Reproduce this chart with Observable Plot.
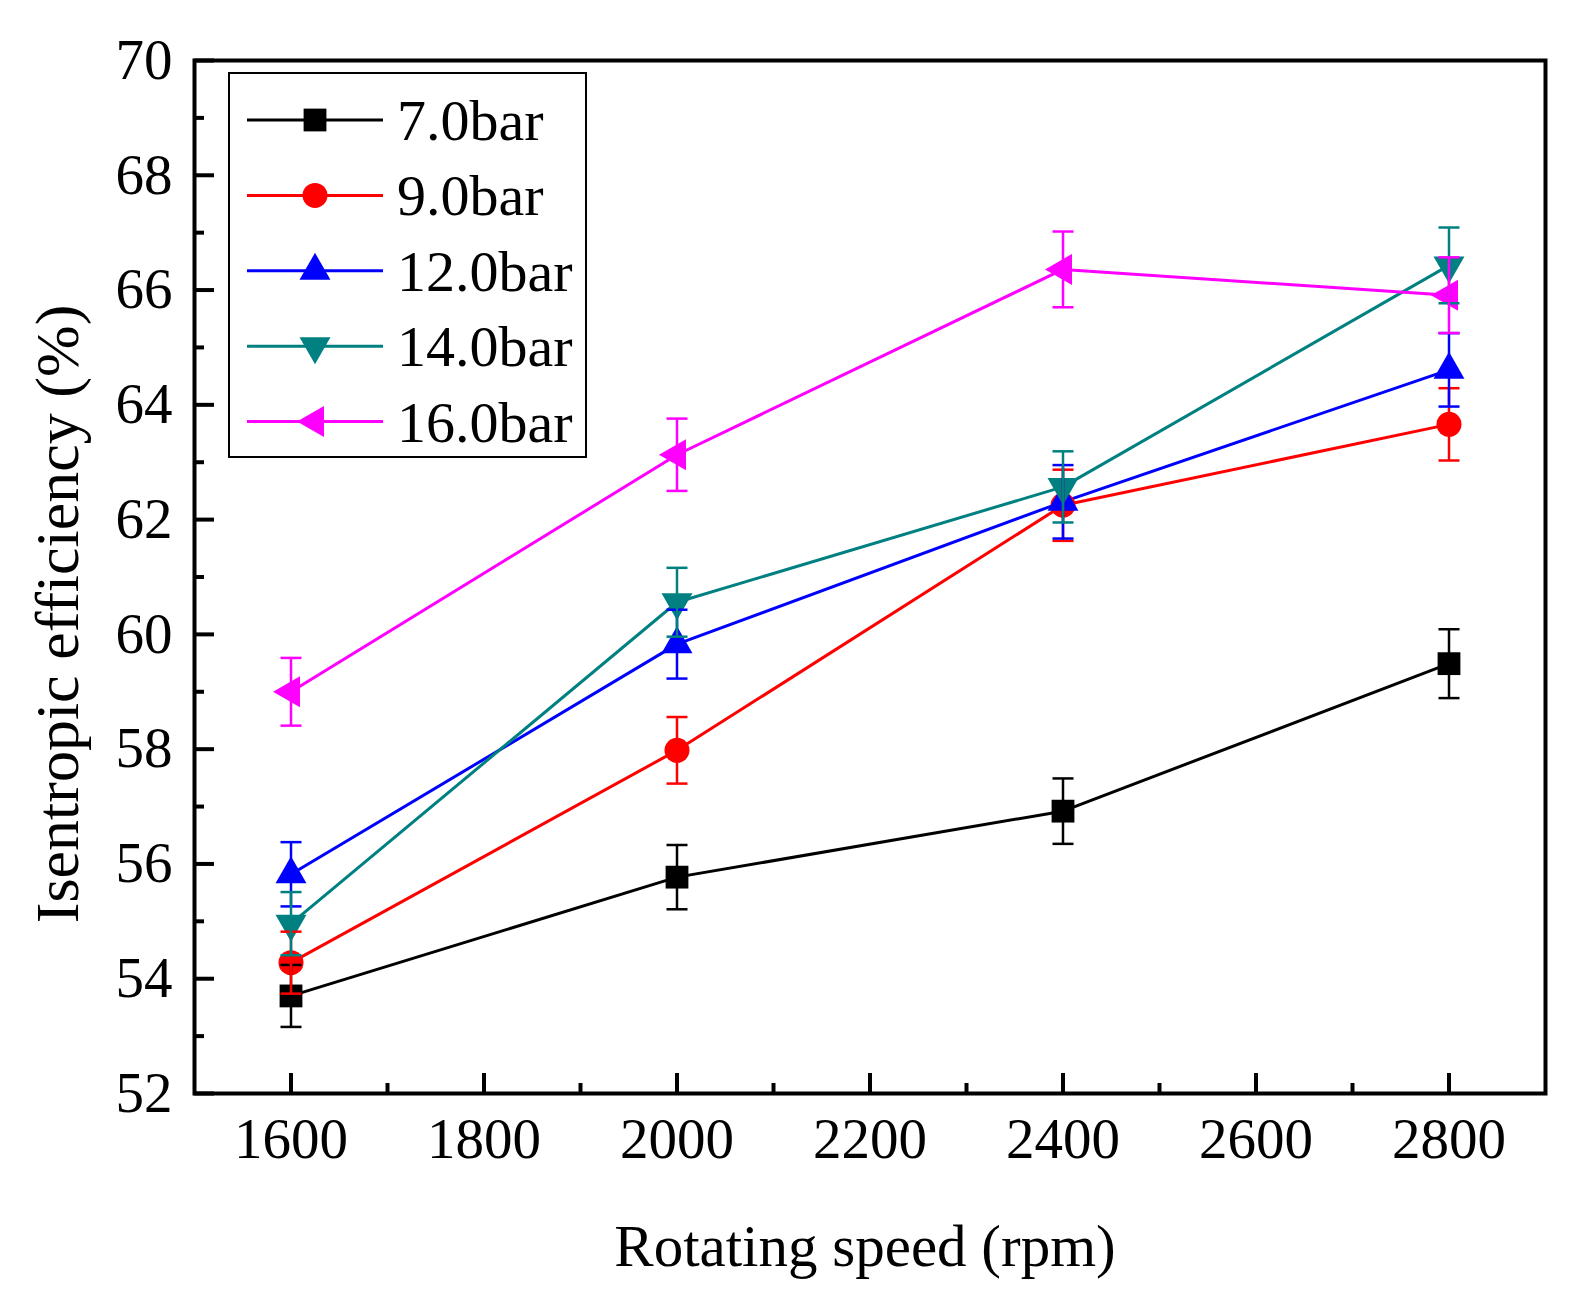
<!DOCTYPE html>
<html>
<head>
<meta charset="utf-8">
<script src="https://cdn.jsdelivr.net/npm/d3@7"></script>
<script src="https://cdn.jsdelivr.net/npm/@observablehq/plot@0.6"></script>
<style>
  body { margin: 0; background: #fff; }
  #chart svg { display: block; }
</style>
</head>
<body>
<div id="chart"></div>
<script>
// datos
const speeds = [1600, 2000, 2400, 2800]
const seriesNames = ['7.0bar', '9.0bar', '12.0bar', '14.0bar', '16.0bar']
const seriesColors = ['#000000', '#ff0000', '#0000ff', '#008080', '#ff00ff']

const eff_7 = [53.70, 55.77, 56.92, 59.49]
const eff_9 = [54.28, 57.98, 62.25, 63.66]
const eff_12 = [55.82, 59.83, 62.31, 64.61]
const eff_14 = [54.96, 60.56, 62.57, 66.43]
const eff_16 = [59.00, 63.13, 66.36, 65.91]

const err_7 = [0.54, 0.56, 0.57, 0.60]
const err_9 = [0.54, 0.58, 0.62, 0.63]
const err_12 = [0.56, 0.60, 0.64, 0.64]
const err_14 = [0.55, 0.60, 0.62, 0.66]
const err_16 = [0.59, 0.63, 0.66, 0.66]

const xMajor = [1600, 1800, 2000, 2200, 2400, 2600, 2800]
const xMinor = [1700, 1900, 2100, 2300, 2500, 2700]
const yMajor = [52, 54, 56, 58, 60, 62, 64, 66, 68, 70]
const yMinor = [53, 55, 57, 59, 61, 63, 65, 67, 69]

const effs = [eff_7, eff_9, eff_12, eff_14, eff_16]
const errs = [err_7, err_9, err_12, err_14, err_16]

/* simbolos estilo Origin */
const kOf = size => Math.sqrt(size / Math.PI)
const symSquare = {draw(c, s) { const k = kOf(s) * 0.95; c.rect(-k, -k, 2 * k, 2 * k) }}
const symCircle = {draw(c, s) { const k = kOf(s) * 1.04; c.moveTo(k, 0); c.arc(0, 0, k, 0, 2 * Math.PI) }}
const symUp = {draw(c, s) { const k = kOf(s); c.moveTo(0, -1.5 * k); c.lineTo(1.29 * k, 0.75 * k); c.lineTo(-1.29 * k, 0.75 * k); c.closePath() }}
const symDown = {draw(c, s) { const k = kOf(s); c.moveTo(0, 1.5 * k); c.lineTo(1.29 * k, -0.75 * k); c.lineTo(-1.29 * k, -0.75 * k); c.closePath() }}
const symLeft = {draw(c, s) { const k = kOf(s); c.moveTo(-1.5 * k, 0); c.lineTo(0.75 * k, -1.29 * k); c.lineTo(0.75 * k, 1.29 * k); c.closePath() }}
const symCap = {draw(c, s) { const k = kOf(s); c.moveTo(-0.875 * k, 0); c.lineTo(0.875 * k, 0) }}
const seriesSymbols = [symSquare, symCircle, symUp, symDown, symLeft]

const W = 1581, H = 1302
const mL = 194, mR = 36, mT = 60, mB = 209
const plotW = W - mL - mR, plotH = H - mT - mB
const R = 12

const series = seriesNames.map((name, i) => ({
  name,
  color: seriesColors[i],
  symbol: seriesSymbols[i],
  rows: speeds.map((sp, j) => ({speed: sp, eff: effs[i][j], err: errs[i][j]}))
}))

const lineMarks = series.map(s => Plot.line(s.rows, {x: 'speed', y: 'eff', stroke: s.color, strokeWidth: 3}))
const dotMarks = series.map(s => Plot.dot(s.rows, {x: 'speed', y: 'eff', r: R, symbol: s.symbol, fill: s.color, stroke: 'none'}))
const errMarks = series.flatMap(s => [
  Plot.ruleX(s.rows, {x: 'speed', y1: d => d.eff - d.err, y2: d => d.eff + d.err, stroke: s.color, strokeWidth: 2.5}),
  Plot.dot(s.rows, {x: 'speed', y: d => d.eff - d.err, r: R, symbol: symCap, fill: 'none', stroke: s.color, strokeWidth: 2.5}),
  Plot.dot(s.rows, {x: 'speed', y: d => d.eff + d.err, r: R, symbol: symCap, fill: 'none', stroke: s.color, strokeWidth: 2.5}),
])

const chart = Plot.plot({
  width: W, height: H,
  marginLeft: mL, marginRight: mR, marginTop: mT, marginBottom: mB,
  style: {fontFamily: '"Liberation Serif", "Times New Roman", serif', fontSize: '57px', color: '#000', background: '#fff'},
  x: {domain: [1500, 2900]},
  y: {domain: [52, 70]},
  marks: [
    Plot.axisX(xMajor, {tickSize: 0, tickPadding: 24, fontSize: 57, label: null, tickFormat: d => String(d)}),
    Plot.axisY(yMajor, {tickSize: 0, tickPadding: 22, fontSize: 57, label: null, tickFormat: d => String(d)}),
    // ticks hacia adentro
    Plot.tickX(xMajor, {x: d => d, insetTop: plotH - 20, stroke: '#000', strokeWidth: 4}),
    Plot.tickX(xMinor, {x: d => d, insetTop: plotH - 10, stroke: '#000', strokeWidth: 4}),
    Plot.tickY(yMajor, {y: d => d, insetRight: plotW - 20, stroke: '#000', strokeWidth: 4}),
    Plot.tickY(yMinor, {y: d => d, insetRight: plotW - 10, stroke: '#000', strokeWidth: 4}),
    ...lineMarks,
    ...dotMarks,
    ...errMarks,
    Plot.frame({stroke: '#000', strokeWidth: 4}),
  ]
})

const svg = d3.select(chart)
const font = '"Liberation Serif", "Times New Roman", serif'

/* titulos de ejes */
svg.append('text')
  .attr('x', 865).attr('y', 1266)
  .attr('text-anchor', 'middle')
  .attr('font-family', font).attr('font-size', 59).attr('fill', '#000')
  .text('Rotating speed (rpm)')

svg.append('text')
  .attr('transform', 'translate(78,614) rotate(-90)')
  .attr('text-anchor', 'middle')
  .attr('font-family', font).attr('font-size', 62).attr('fill', '#000')
  .text('Isentropic efficiency (%)')

/* leyenda */
const lg = svg.append('g')
lg.append('rect')
  .attr('x', 229).attr('y', 73).attr('width', 357).attr('height', 384)
  .attr('fill', '#fff').attr('stroke', '#000').attr('stroke-width', 2)
series.forEach((s, i) => {
  const y = 120 + i * 75.4
  lg.append('line').attr('x1', 247).attr('x2', 383).attr('y1', y).attr('y2', y)
    .attr('stroke', s.color).attr('stroke-width', 3)
  lg.append('path')
    .attr('transform', `translate(315,${y})`)
    .attr('d', d3.symbol(s.symbol, Math.PI * R * R)())
    .attr('fill', s.color)
  lg.append('text')
    .attr('x', 397).attr('y', y + 20)
    .attr('text-anchor', 'start')
    .attr('font-family', font).attr('font-size', 58).attr('fill', '#000')
    .text(s.name)
})

d3.select('#chart').append(() => chart)
</script>
</body>
</html>
